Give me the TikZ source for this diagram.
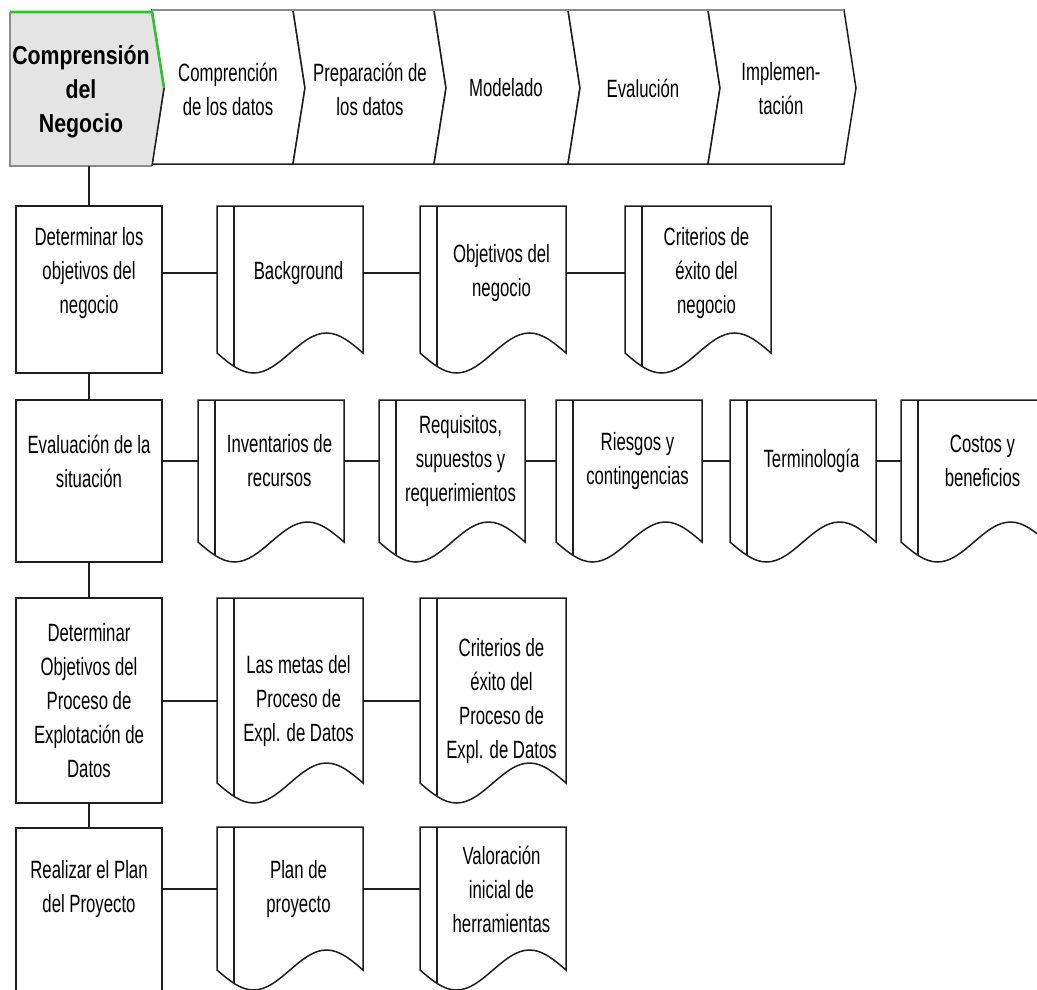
\documentclass[tikz,border=0pt]{standalone}
\usepackage{fontspec}
\setmainfont{Liberation Sans}
\newfontfamily\narrowfont{Liberation Sans}[FakeStretch=0.67]
\newfontfamily\phasefont{Liberation Sans}[FakeStretch=0.82]
\usetikzlibrary{calc}

\definecolor{phasegrey}{HTML}{E4E4E4}
\definecolor{phasegreen}{HTML}{2DC52D}
\definecolor{rimgrey}{HTML}{8C8C8C}
\definecolor{ink}{HTML}{1E1E1E}

% document symbol: name, left x, top y, side height, text y, text
\newcommand\docshape[6]{%
  \node[docframe, minimum height=#4pt, anchor=north west] (#1) at (#2,#3) {};
  \draw[ink, fill=white] (#1.south west) -- (#1.north west) -- (#1.north east) -- (#1.south east)
     sin ++(-36.5,-20) cos ++(-36.5,20) sin ++(-36.5,20) cos ++(-36.5,-20) -- cycle;
  \draw[ink] ($(#1.north west)+(17,0)$) -- ++(0,{#4+13.4});
  \node[txt] (#1t) at ({#2+81.5},#5) {#6};
}

\begin{document}
\begin{tikzpicture}[x=1pt,y=-1pt, line width=1.5pt,
  txt/.style={font=\narrowfont\fontsize{25}{34}\selectfont, align=center, inner sep=0pt},
  phasetxt/.style={font=\narrowfont\fontsize{25}{34}\selectfont, align=center, inner sep=0pt},
  task/.style={draw=ink, fill=white, minimum width=146pt, inner sep=0pt, outer sep=0pt, anchor=north west},
  docframe/.style={minimum width=146pt, inner sep=0pt, outer sep=0pt},
  link/.style={draw=ink}]
\useasboundingbox (0,0) rectangle (1037,990);

% ---- phase bar ----
\foreach \a/\b in {152/293, 293/434, 434/568, 568/708, 708/844} {
  \draw[ink, fill=white] (\a,10) -- (\b,10) -- ({\b+12},88) -- (\b,164) -- (\a,164) -- ({\a+12},88) -- cycle;
}
\draw[rimgrey, line width=2pt] (152,10) -- (844,10);

\node[minimum width=142pt, minimum height=154pt, inner sep=0pt, outer sep=0pt, anchor=north west] (p1) at (10,12) {};
\fill[phasegrey] (10,12) -- (152,12) -- (164,88) -- (152,166) -- (10,166) -- cycle;
\draw[rimgrey] (152,166) -- (10,166) -- (10,12);
\draw[ink] (164,88) -- (152,166);
\draw[phasegreen, line width=2.6pt] (10,12) -- (152,12) -- (164,88);

\node[font=\phasefont\bfseries\fontsize{26}{34}\selectfont, align=center, inner sep=0pt] (p1t) at (81,92) {Comprensión\\del\\Negocio};
\node[phasetxt] (p2t) at (228,89) {Comprención\\de los datos};
\node[phasetxt] (p3t) at (370,89) {Preparación de\\los datos};
\node[phasetxt] (p4t) at (506,88) {Modelado};
\node[phasetxt] (p5t) at (643,88) {Evalución};
\node[phasetxt] (p6t) at (781,89) {Implemen-\\tación};

% ---- task column ----
\node[task, minimum height=167pt] (b1) at (16,206) {};
\node[task, minimum height=162pt] (b2) at (16,400) {};
\node[task, minimum height=205pt] (b3) at (16,598) {};
\node[task, minimum height=200pt] (b4) at (16,828) {};
\node[txt] (b1t) at (89,273) {Determinar los\\objetivos del\\negocio};
\node[txt] (b2t) at (89,461) {Evaluación de la\\situación};
\node[txt] (b3t) at (89,701) {Determinar\\Objetivos del\\Proceso de\\Explotación de\\Datos};
\node[txt] (b4t) at (89,889) {Realizar el Plan\\del Proyecto};

\draw[link] (b1.north |- p1.south) -- (b1.north);
\draw[link] (b1.south) -- (b2.north);
\draw[link] (b2.south) -- (b3.north);
\draw[link] (b3.south) -- (b4.north);

% ---- outputs, row 1 ----
\docshape{d11}{217}{206}{147}{273}{Background}
\docshape{d12}{420}{206}{147}{273}{Objetivos del\\negocio}
\docshape{d13}{625}{206}{147}{273}{Criterios de\\éxito del\\negocio}
\draw[link] (b1.east |- d11t) -- (d11.west |- d11t);
\draw[link] (d11.east |- d11t) -- (d12.west |- d11t);
\draw[link] (d12.east |- d11t) -- (d13.west |- d11t);

% ---- outputs, row 2 ----
\docshape{d21}{198}{400}{142}{461}{Inventarios de\\recursos}
\docshape{d22}{379}{400}{142}{461}{Requisitos,\\supuestos y\\requerimientos}
\docshape{d23}{556}{400}{142}{461}{Riesgos y\\contingencias}
\docshape{d24}{730}{400}{142}{461}{Terminología}
\docshape{d25}{901}{400}{142}{461}{Costos y\\beneficios}
\draw[link] (b2.east |- d21t) -- (d21.west |- d21t);
\draw[link] (d21.east |- d21t) -- (d22.west |- d21t);
\draw[link] (d22.east |- d21t) -- (d23.west |- d21t);
\draw[link] (d23.east |- d21t) -- (d24.west |- d21t);
\draw[link] (d24.east |- d21t) -- (d25.west |- d21t);

% ---- outputs, row 3 ----
\docshape{d31}{217}{598}{185}{701}{Las metas del\\Proceso de\\Expl. de Datos}
\docshape{d32}{420}{598}{185}{701}{Criterios de\\éxito del\\Proceso de\\Expl. de Datos}
\draw[link] (b3.east |- d31t) -- (d31.west |- d31t);
\draw[link] (d31.east |- d31t) -- (d32.west |- d31t);

% ---- outputs, row 4 ----
\docshape{d41}{217}{827}{143}{889}{Plan de\\proyecto}
\docshape{d42}{420}{827}{143}{889}{Valoración\\inicial de\\herramientas}
\draw[link] (b4.east |- d41t) -- (d41.west |- d41t);
\draw[link] (d41.east |- d41t) -- (d42.west |- d41t);
\end{tikzpicture}
\end{document}
